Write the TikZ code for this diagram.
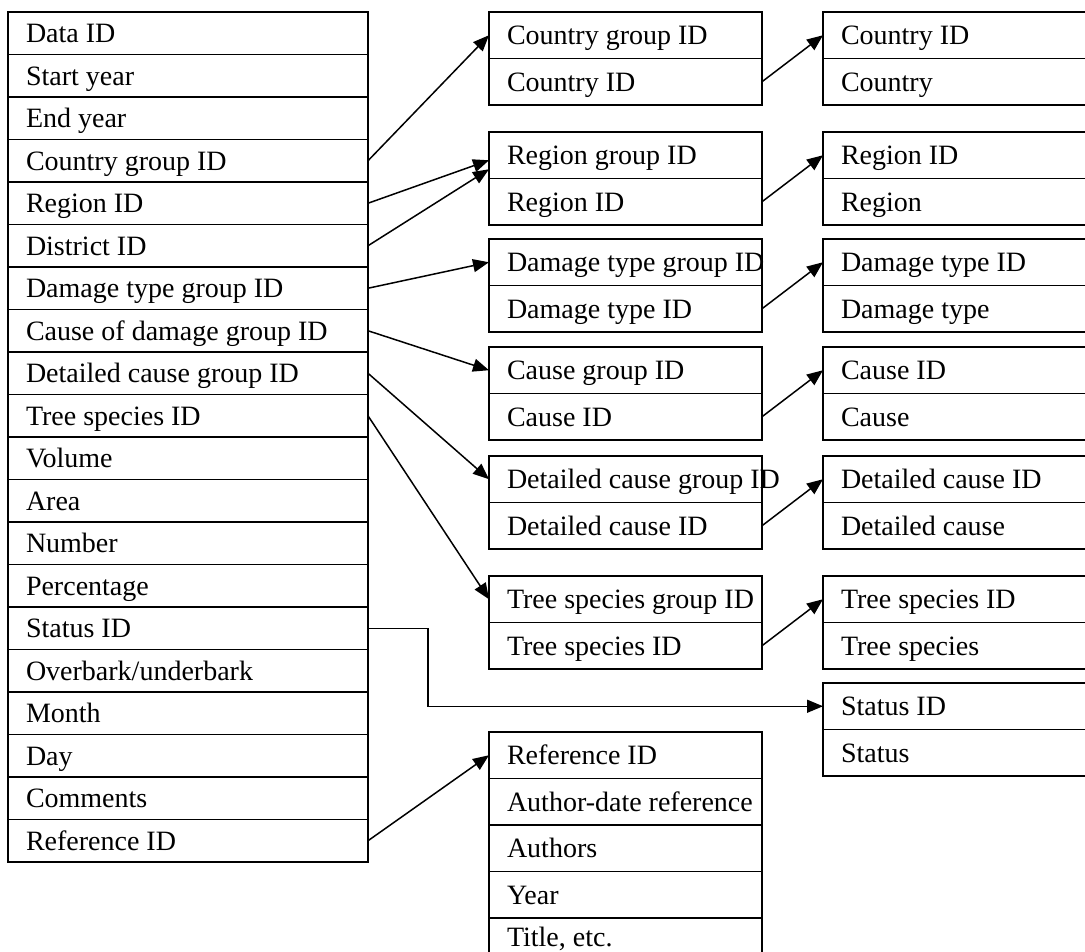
\documentclass[tikz,border=0pt]{standalone}
\usepackage{fontspec}
\setmainfont{Liberation Serif}
\usetikzlibrary{positioning,arrows.meta}

\begin{document}
\begin{tikzpicture}[x=1pt,y=-1pt]
	\tikzstyle{cell}=[draw, rectangle, line width=1.5pt, outer sep=0pt, inner xsep=18pt, anchor=north west, font=\fontsize{28}{33}\selectfont, text height=19pt, text depth=0pt, execute at end node={\hss\egroup}]
	\tikzstyle{rec}=[cell, execute at begin node={\hbox to 324pt\bgroup}, minimum height=42.5pt]
	\tikzstyle{mid}=[cell, execute at begin node={\hbox to 237pt\bgroup}, minimum height=46.5pt]
	\tikzstyle{far}=[cell, execute at begin node={\hbox to 254pt\bgroup}, minimum height=46.5pt]
	\tikzstyle{connect}=[-{Triangle[length=16pt,width=13pt]}, line width=1.5pt]
	\useasboundingbox (0,0) rectangle (1085,952);
	\clip (0,0) rectangle (1085,952);
	
	% data table
	\foreach \nm/\lbl [count=\i from 0] in {data/Data ID, start/Start year, endyr/End year, cgrp/Country group ID, reg/Region ID, dist/District ID, dmg/Damage type group ID, cause/Cause of damage group ID, dcause/Detailed cause group ID, tree/Tree species ID, vol/Volume, area/Area, num/Number, pct/Percentage, status/Status ID, bark/{Overbark/underbark}, month/Month, day/Day, comm/Comments, ref/Reference ID}
		\node[rec] (\nm) at (8,{12+42.5*\i}) {\lbl};
	
	% group tables
	\node[mid] (cgA) at (489,12) {Country group ID};
	\node[mid, below=0pt of cgA] (cgB) {Country ID};
	\node[mid] (rgA) at (489,132) {Region group ID};
	\node[mid, below=0pt of rgA] (rgB) {Region ID};
	\node[mid] (dtA) at (489,239) {Damage type group ID};
	\node[mid, below=0pt of dtA] (dtB) {Damage type ID};
	\node[mid] (csA) at (489,347) {Cause group ID};
	\node[mid, below=0pt of csA] (csB) {Cause ID};
	\node[mid] (dcA) at (489,456) {Detailed cause group ID};
	\node[mid, below=0pt of dcA] (dcB) {Detailed cause ID};
	\node[mid] (tsA) at (489,576) {Tree species group ID};
	\node[mid, below=0pt of tsA] (tsB) {Tree species ID};
	
	% reference table
	\node[mid] (rfA) at (489,732) {Reference ID};
	\node[mid, below=0pt of rfA] (rfB) {Author-date reference};
	\node[mid, below=0pt of rfB] (rfC) {Authors};
	\node[mid, below=0pt of rfC] (rfD) {Year};
	\node[mid, below=0pt of rfD, text height=11pt] (rfE) {Title, etc.};
	
	% lookup tables
	\node[far] (coA) at (823,12) {Country ID};
	\node[far, below=0pt of coA] (coB) {Country};
	\node[far] (rnA) at (823,132) {Region ID};
	\node[far, below=0pt of rnA] (rnB) {Region};
	\node[far] (dyA) at (823,239) {Damage type ID};
	\node[far, below=0pt of dyA] (dyB) {Damage type};
	\node[far] (caA) at (823,347) {Cause ID};
	\node[far, below=0pt of caA] (caB) {Cause};
	\node[far] (dlA) at (823,456) {Detailed cause ID};
	\node[far, below=0pt of dlA] (dlB) {Detailed cause};
	\node[far] (spA) at (823,576) {Tree species ID};
	\node[far, below=0pt of spA] (spB) {Tree species};
	\node[far] (stA) at (823,683) {Status ID};
	\node[far, below=0pt of stA] (stB) {Status};
	
	\draw[connect] (cgrp.east) -- (cgA.west);
	\draw[connect] (reg.east) -- ([yshift=-5pt]rgA.west);
	\draw[connect] (dist.east) -- ([yshift=-14pt]rgA.west);
	\draw[connect] (dmg.east) -- (dtA.west);
	\draw[connect] (cause.east) -- (csA.west);
	\draw[connect] (dcause.east) -- (dcA.west);
	\draw[connect] (tree.east) -- (tsA.west);
	\draw[connect] (status.east) -- ++(60,0) |- (stA.west);
	\draw[connect] (ref.east) -- (rfA.west);
	
	\draw[connect] (cgB.east) -- (coA.west);
	\draw[connect] (rgB.east) -- (rnA.west);
	\draw[connect] (dtB.east) -- (dyA.west);
	\draw[connect] (csB.east) -- (caA.west);
	\draw[connect] (dcB.east) -- (dlA.west);
	\draw[connect] (tsB.east) -- (spA.west);
\end{tikzpicture}
\end{document}
